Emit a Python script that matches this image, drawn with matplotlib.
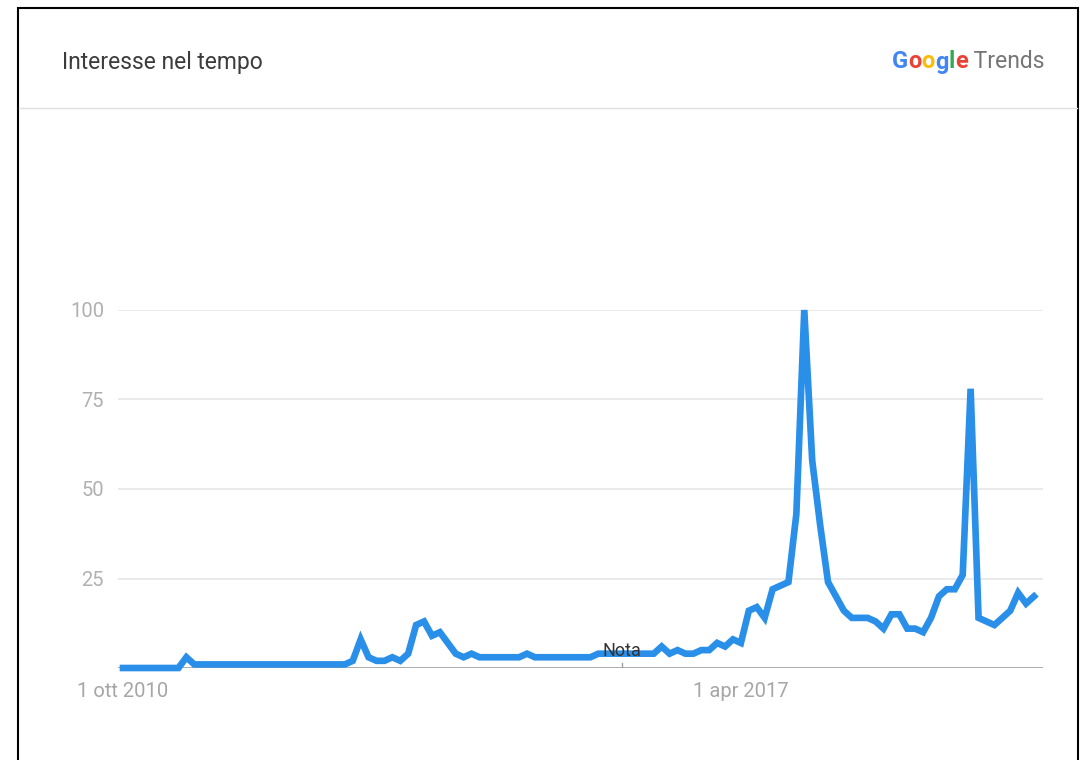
import numpy as np
import pandas as pd
import matplotlib
matplotlib.use("Agg")
import matplotlib.pyplot as plt
from matplotlib.patches import Rectangle
from matplotlib.lines import Line2D
from matplotlib.offsetbox import TextArea, HPacker, AnchoredOffsetbox

# monthly interest, Oct 2010 .. May 2020
start_date = "2010-10-01"
interest = [0] * 8 + [3] + [1] * 20 + [
    2, 8, 3, 2, 2, 3, 2, 4, 12, 13, 9, 10, 7, 4, 3, 4, 3,
] + [3] * 5 + [4] + [3] * 8 + [4] * 8 + [
    6, 4, 5, 4, 4, 5, 5, 7, 6, 8, 7, 16, 17, 14, 22, 23, 24, 43, 100, 58,
    40, 24, 20, 16, 14, 14, 14, 13, 11, 15, 15, 11, 11, 10, 14, 20, 22, 22,
    26, 78, 14, 13, 12, 14, 16, 21, 18, 20,
]
y_ticks = [25, 50, 75, 100]
x_label_dates = ["2010-10-01", "2017-04-01"]
x_label_text = ["1 ott 2010", "1 apr 2017"]
note_date = "2016-01-01"
note_text = "Nota"

dates = pd.date_range(start_date, periods=len(interest), freq="MS")
x = np.arange(len(interest))

plt.rcParams["font.family"] = ["Roboto", "DejaVu Sans"]

W, H = 1086, 760
fig = plt.figure(figsize=(W / 100, H / 100), dpi=100)
fig.patch.set_facecolor("white")

# card frame and header separator
fig.add_artist(Rectangle((18 / W, -0.01), (1078 - 18) / W, (H - 8) / H + 0.01,
                         transform=fig.transFigure, fill=False,
                         edgecolor="black", linewidth=1.5))
fig.add_artist(Line2D([19 / W, 1077 / W], [1 - 108 / H] * 2,
                      transform=fig.transFigure, color="#e0e0e0", lw=1))

fig.text(62 / W, 1 - 62 / H, "Interesse nel tempo", fontsize=16.5,
         color="#3c3c3c", va="center", ha="left")

# Google Trends logo
logo_parts = [("G", "#4285F4"), ("o", "#EA4335"), ("o", "#FBBC05"),
              ("g", "#4285F4"), ("l", "#34A853"), ("e", "#EA4335")]
boxes = [TextArea(ch, textprops=dict(color=c, fontsize=17, fontweight="bold"))
         for ch, c in logo_parts]
boxes.append(TextArea(" Trends", textprops=dict(color="#757575", fontsize=16.5)))
logo = AnchoredOffsetbox(loc="center right", child=HPacker(children=boxes, pad=0, sep=0),
                         frameon=False, bbox_to_anchor=(1044 / W, 1 - 62 / H),
                         bbox_transform=fig.transFigure, borderpad=0, pad=0)
fig.add_artist(logo)

# plot area
x0, x1 = 118, 1043
y_top, y_base = 310, 668
ax = fig.add_axes([x0 / W, (H - y_base) / H, (x1 - x0) / W, (y_base - y_top) / H])
step = (1034 - 123) / (len(interest) - 1)
ax.set_xlim(-(123 - x0) / step, len(interest) - 1 + (x1 - 1034) / step)
ax.set_ylim(0, 100)

for t in y_ticks:
    ax.axhline(t, color="#e6e6e6", lw=1.2, zorder=1)
ax.axhline(0, color="#9e9e9e", lw=1.2, zorder=1)

ax.plot(x, interest, color="#2a8fe8", lw=4.8, solid_joinstyle="miter",
        clip_on=False, zorder=3)

for s in ax.spines.values():
    s.set_visible(False)
ax.set_yticks(y_ticks)
ax.set_yticklabels([str(t) for t in y_ticks])
ax.tick_params(axis="y", length=0, pad=10, labelsize=14.5, labelcolor="#b0b0b0")

ax.set_xticks([dates.get_loc(pd.Timestamp(d)) for d in x_label_dates])
ax.set_xticklabels(x_label_text)
ax.tick_params(axis="x", length=0, pad=10, labelsize=14.5, labelcolor="#a6a6a6")

# data-collection note
note_x = dates.get_loc(pd.Timestamp(note_date))
ax.plot([note_x, note_x], [0, 1.5], color="#9e9e9e", lw=1, zorder=2)
ax.text(note_x, 4.8, note_text, ha="center", va="center", fontsize=13,
        color="#333333", zorder=4)

fig.savefig("out.png", dpi=100)
plt.close(fig)
